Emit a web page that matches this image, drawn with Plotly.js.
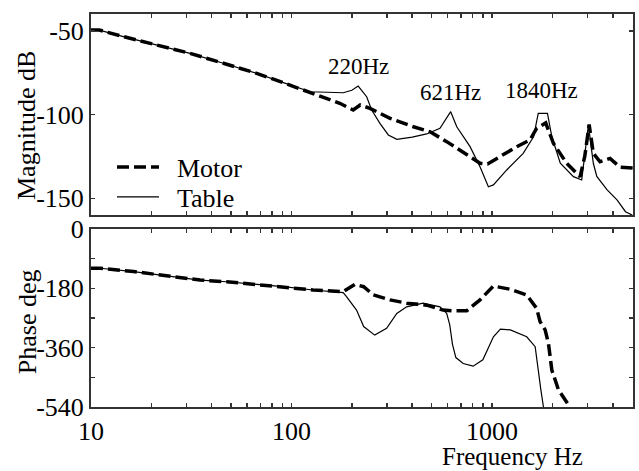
<!DOCTYPE html>
<html>
<head>
<meta charset="utf-8">
<script src="https://cdn.plot.ly/plotly-3.0.1.min.js"></script>
<style>html,body{margin:0;padding:0;background:#fff;}#chart{width:639px;height:471px;}</style>
</head>
<body>
<div id="chart"></div>
<script>
// ---- Data ----
var motorMagFreq = [10, 11, 14.5, 21.3, 31.2, 45.7, 67, 88, 128, 174, 203, 220, 246, 310, 405, 491, 594, 690, 871, 950, 1094, 1329, 1546, 1670, 1736, 1852, 2023, 2355, 2750, 2900, 3050, 3200, 3456, 3878, 4350, 5050];
var motorMag     = [-49.6, -49.6, -53.5, -58.5, -63.5, -69.4, -75.4, -80.4, -87.3, -93.3, -97.3, -94.3, -96.3, -102.3, -107.3, -110.3, -116.2, -121.2, -129.1, -129.5, -125.2, -119.2, -115.2, -108.2, -107, -105, -117.2, -129.1, -137.1, -125, -106, -123.2, -128.2, -126.2, -131.5, -132];

var tableMagFreq = [10, 11, 14.5, 21.3, 31.2, 45.7, 67, 88, 124, 181, 200, 215, 237, 251, 276, 304, 335, 400, 472, 550, 622, 667, 777, 871, 959, 1016, 1184, 1430, 1611, 1700, 1890, 1987, 2190, 2547, 2800, 3023, 3200, 3330, 3750, 4200, 4630, 5000];
var tableMag     = [-49.6, -49.6, -53.5, -58.5, -63.5, -69.4, -75.4, -80.4, -86.4, -87.0, -85.5, -83.0, -89.4, -97.3, -105.3, -112.2, -114.8, -113.5, -111.6, -108.2, -98.3, -107.3, -119.2, -131.2, -143.1, -142, -133.1, -123.2, -113.3, -99.3, -99.3, -113.3, -129.1, -137.1, -139.1, -106.3, -129.1, -137, -145, -151, -158, -160];

var motorPhaseFreq = [10, 11.1, 16.3, 23, 35, 47.5, 64.5, 91, 128, 181, 207, 229, 256, 310, 375, 472, 570, 641, 748, 871, 1016, 1234, 1489, 1670, 1736, 1840, 1911, 1987, 2145, 2410, 2450];
var motorPhase     = [-119, -119, -129, -140, -155, -160, -167, -175, -185, -190, -168, -175, -200, -215, -225, -231, -246, -248, -248, -215, -173, -183, -200, -241, -281, -306, -347, -428, -488, -534, -540];

var tablePhaseFreq = [10, 11.1, 16.3, 23, 35, 47.5, 64.5, 91, 128, 181, 188, 211, 229, 260, 298, 335, 375, 453, 550, 594, 615, 635, 660, 718, 805, 900, 1016, 1101, 1234, 1489, 1641, 1686, 1752, 1805];
var tablePhase     = [-119, -119, -129, -140, -155, -160, -167, -175, -185, -193, -205, -246, -296, -322, -301, -256, -236, -225, -236, -256, -290, -350, -390, -408, -416, -397, -327, -304, -306, -327, -357, -418, -488, -540];

var seriesNames = ['Motor', 'Table'];
var xTickVals = [10,20,30,40,50,60,70,80,90,100,200,300,400,500,600,700,800,900,1000,2000,3000,4000,5000];
var xTickText = ['10','','','','','','','','','100','','','','','','','','','1000','','','',''];
var magTickVals = [-50, -100, -150];
var magTickText = ['-50', '-100', '-150'];
var phaseTickVals = [0, -90, -180, -270, -360, -450, -540];
var phaseTickText = ['0', '', '-180', '', '-360', '', '-540'];
var peakLabels = ['220Hz', '621Hz', '1840Hz'];
var peakLabelFreq = [215, 621, 1770];
var peakLabelMag = [-71.5, -87, -85.5];

// ---- Styles ----
var FONT = 'Liberation Serif';
function fnt(size) { return {family: FONT, size: size, color: '#000'}; }
var motorLine = {color: '#000', width: 3.5, dash: '12px,5px'};
var tableLine = {color: '#000', width: 1.2};
var PAD = '\u00A0\u00A0';

var traces = [
  {x: motorMagFreq, y: motorMag, xaxis: 'x2', yaxis: 'y', mode: 'lines', name: PAD + seriesNames[0], line: motorLine, legend: 'legend'},
  {x: tableMagFreq, y: tableMag, xaxis: 'x2', yaxis: 'y', mode: 'lines', name: PAD + seriesNames[1], line: tableLine, legend: 'legend2'},
  {x: motorPhaseFreq, y: motorPhase, xaxis: 'x', yaxis: 'y2', mode: 'lines', name: seriesNames[0], line: motorLine, showlegend: false},
  {x: tablePhaseFreq, y: tablePhase, xaxis: 'x', yaxis: 'y2', mode: 'lines', name: seriesNames[1], line: tableLine, showlegend: false}
];

function ax(extra) {
  var base = {
    showgrid: false, zeroline: false, showline: true, mirror: 'ticks',
    linecolor: '#333', linewidth: 2, ticks: 'inside', ticklen: 4, tickwidth: 1.5, tickcolor: '#333',
    tickfont: fnt(26)
  };
  for (var k in extra) base[k] = extra[k];
  return base;
}

var annotations = [];
for (var i = 0; i < peakLabels.length; i++) {
  annotations.push({text: peakLabels[i], xref: 'x2', yref: 'y', x: Math.log10(peakLabelFreq[i]), y: peakLabelMag[i],
    showarrow: false, font: fnt(23)});
}
annotations.push({text: 'Magnitude dB', textangle: -90, xref: 'paper', yref: 'paper',
  x: -0.118, y: 0.7176, xanchor: 'center', yanchor: 'middle', showarrow: false, font: fnt(26)});
annotations.push({text: 'Phase deg', textangle: -90, xref: 'paper', yref: 'paper',
  x: -0.118, y: 0.216, xanchor: 'center', yanchor: 'middle', showarrow: false, font: fnt(26)});
annotations.push({text: 'Frequency Hz', xref: 'paper', yref: 'paper',
  x: 0.777, y: -0.127, xanchor: 'center', yanchor: 'middle', showarrow: false, font: fnt(25)});

function leg(yc) {
  return {x: 0.0387, y: yc, xanchor: 'left', yanchor: 'middle', bgcolor: 'rgba(0,0,0,0)',
    itemwidth: 42, font: fnt(26)};
}

var layout = {
  width: 639, height: 471,
  margin: {l: 91, r: 6, t: 14, b: 64},
  paper_bgcolor: '#fff', plot_bgcolor: '#fff',
  showlegend: true,
  legend: leg(0.6107),
  legend2: leg(0.5344),
  xaxis: ax({type: 'log', range: [1, 3.703], anchor: 'y2', tickmode: 'array', tickvals: xTickVals, ticktext: xTickText}),
  xaxis2: ax({type: 'log', range: [1, 3.703], anchor: 'y', matches: 'x', tickmode: 'array', tickvals: xTickVals, ticktext: xTickText, showticklabels: false}),
  yaxis: ax({domain: [0.4885, 1], range: [-160, -40], anchor: 'x2', tickmode: 'array', tickvals: magTickVals, ticktext: magTickText}),
  yaxis2: ax({domain: [0, 0.4529], range: [-540, 0], anchor: 'x', tickmode: 'array', tickvals: phaseTickVals, ticktext: phaseTickText}),
  annotations: annotations
};

Plotly.newPlot('chart', traces, layout, {displayModeBar: false, staticPlot: true});
</script>
</body>
</html>
